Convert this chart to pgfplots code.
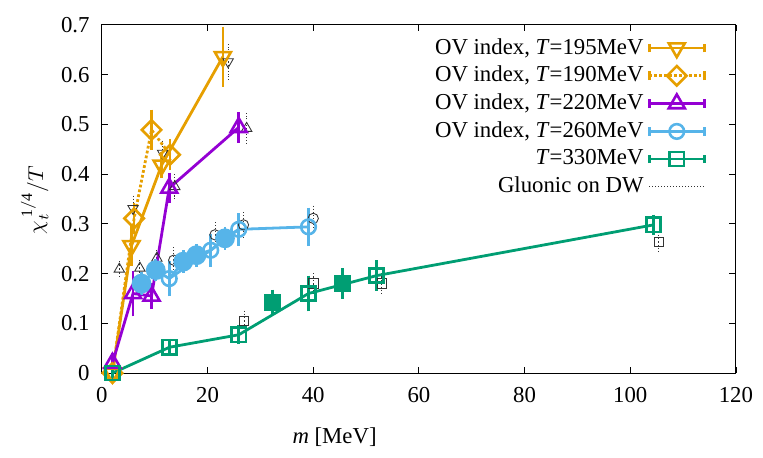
\documentclass[border=0pt]{standalone}
\usepackage{fontspec}
\setmainfont{Liberation Serif}[Scale=1.06]
\usepackage{pgfplots}
\pgfplotsset{compat=1.18}
\definecolor{cA}{HTML}{E69F00}
\definecolor{cB}{HTML}{9400D3}
\definecolor{cC}{HTML}{56B4E9}
\definecolor{cD}{HTML}{009E73}
\pgfplotsset{
  ser/.style={color=#1, line width=1.3pt, mark options={solid, line width=1.2pt},
    error bars/y dir=both, error bars/y explicit,
    error bars/error bar style={line width=1.2pt, solid},
    error bars/error mark options={line width=1.2pt, mark size=2.5pt, solid}},
  glu/.style={color=black!80, only marks, line width=0.4pt, mark options={solid, line width=0.4pt}, forget plot,
    error bars/y dir=both, error bars/y explicit,
    error bars/error bar style={line width=0.4pt, densely dotted},
    error bars/error mark options={line width=0.4pt, mark size=1.3pt, densely dotted}},
  eb legend/.style={legend image code/.code={
    \draw[mark repeat=2,mark phase=2] plot coordinates {(0cm,0cm) (0.45cm,0cm) (0.9cm,0cm)};
    \draw[solid] (0cm,-2pt)--(0cm,2pt) (0.9cm,-2pt)--(0.9cm,2pt);}},
}
\begin{document}
\begin{tikzpicture}
\begin{axis}[
  scale only axis, width=295pt, height=162pt,
  xmin=0, xmax=120, ymin=0, ymax=0.7,
  xtick={0,20,40,60,80,100,120},
  ytick={0,0.1,0.2,0.3,0.4,0.5,0.6,0.7},
  tick align=inside, major tick length=3pt,
  tick style={black, line width=0.4pt},
  axis line style={line width=0.5pt},
  /pgf/number format/assume math mode=true,
  yticklabel style={/pgf/number format/fixed, /pgf/number format/precision=1, xshift=-2pt},
  xticklabel style={yshift=-3pt},
  every axis x label/.style={at={(rel axis cs:0.367,-0.184)}, anchor=center},
  every axis y label/.style={at={(rel axis cs:-0.106,0.497)}, rotate=90, anchor=center},
  xlabel={\textit{m} [MeV]},
  ylabel={$\chi_t^{\,\mathrm{1/4}}/T$},
  clip=false,
  legend style={draw=none, fill=none, at={(0.953,0.975)}, anchor=north east,
    legend cell align=right, inner sep=0pt, row sep=0pt,
    nodes={inner sep=2pt}},
  legend plot pos=right,
  after end axis/.code={
    \path (rel axis cs:0,0) ++(-47.4pt,-39.5pt);
    \path (rel axis cs:1,1) ++(12.6pt,11.6pt);
  },
]
% Gluonic on DW
\addplot[glu, mark=triangle, mark size=2.8pt, mark options={solid, line width=0.4pt, rotate=180}] coordinates {
  (5.9,0.331) +- (0,0.02)
  (11.5,0.442) +- (0,0.02)
  (23.9,0.626) +- (0,0.03)
};
\addplot[glu, mark=triangle, mark size=2.8pt] coordinates {
  (3.3,0.209) +- (0,0.01)
  (7.2,0.211) +- (0,0.01)
  (10.4,0.231) +- (0,0.01)
  (13.8,0.375) +- (0,0.02)
  (27.4,0.492) +- (0,0.025)
};
\addplot[glu, mark=o, mark size=2.4pt] coordinates {
  (13.6,0.227) +- (0,0.02)
  (21.4,0.278) +- (0,0.02)
  (26.8,0.298) +- (0,0.02)
  (40.0,0.311) +- (0,0.02)
};
\addplot[glu, mark=square, mark size=2.2pt] coordinates {
  (26.9,0.105) +- (0,0.015)
  (40.0,0.180) +- (0,0.015)
  (53.0,0.180) +- (0,0.015)
  (105.4,0.264) +- (0,0.015)
};
% T=195
\addplot[ser=cA, eb legend, mark=triangle, mark size=4.3pt, mark options={solid, line width=1.2pt, rotate=180}] coordinates {
  (2.0,0.0) +- (0,0.004)
  (5.6,0.256) +- (0,0.03)
  (11.3,0.418) +- (0,0.015)
  (22.9,0.636) +- (0,0.05)
};
\addlegendentry{OV index, \textit{T}=195MeV}
% T=190
\addplot[ser=cA, eb legend, densely dotted, mark=square, mark size=3.2pt, mark options={solid, line width=1.2pt, rotate=45}] coordinates {
  (2.0,0.0) +- (0,0.004)
  (6.1,0.311) +- (0,0.02)
  (9.4,0.489) +- (0,0.03)
  (12.9,0.439) +- (0,0.02)
};
\addlegendentry{OV index, \textit{T}=190MeV}
% T=220
\addplot[ser=cB, eb legend, mark=triangle, mark size=4.3pt] coordinates {
  (2.0,0.02) +- (0,0.01)
  (5.9,0.160) +- (0,0.035)
  (9.4,0.155) +- (0,0.015)
  (12.75,0.372) +- (0,0.02)
  (25.9,0.494) +- (0,0.02)
};
\addlegendentry{OV index, \textit{T}=220MeV}
% T=260
\addplot[ser=cC, eb legend, mark=o, mark size=3.4pt] coordinates {
  (12.75,0.190) +- (0,0.025)
  (20.6,0.247) +- (0,0.022)
  (25.9,0.289) +- (0,0.022)
  (39.1,0.294) +- (0,0.028)
};
\addlegendentry{OV index, \textit{T}=260MeV}
% T=330
\addplot[ser=cD, eb legend, mark=square, mark size=3.3pt] coordinates {
  (2.0,0.0) +- (0,0.004)
  (12.8,0.052) +- (0,0.006)
  (25.9,0.077) +- (0,0.008)
  (39.1,0.160) +- (0,0.025)
  (52.0,0.196) +- (0,0.02)
  (104.4,0.298) +- (0,0.01)
};
\addlegendentry{\textit{T}=330MeV}
% filled extra points
\addplot[ser=cC, forget plot, no marks] coordinates {
  (7.5,0.180) (10.2,0.207) (12.75,0.190) (15.4,0.224) (17.9,0.237) (20.6,0.247) (23.3,0.271) (25.9,0.289)
};
\addplot[ser=cC, forget plot, only marks, mark=*, mark size=4pt] coordinates {
  (7.5,0.180) +- (0,0.012)
  (10.2,0.207) +- (0,0.012)
  (15.4,0.224) +- (0,0.012)
  (17.9,0.237) +- (0,0.012)
  (23.3,0.271) +- (0,0.012)
};
\addplot[ser=cD, forget plot, only marks, mark=square*, mark size=3.3pt] coordinates {
  (32.3,0.142) +- (0,0.015)
  (45.5,0.180) +- (0,0.02)
};
\addlegendimage{legend image code/.code={\draw[black!80, densely dotted, line width=0.4pt] (0cm,0cm)--(0.9cm,0cm);}}
\addlegendentry{Gluonic on DW}
\end{axis}
\end{tikzpicture}
\end{document}
